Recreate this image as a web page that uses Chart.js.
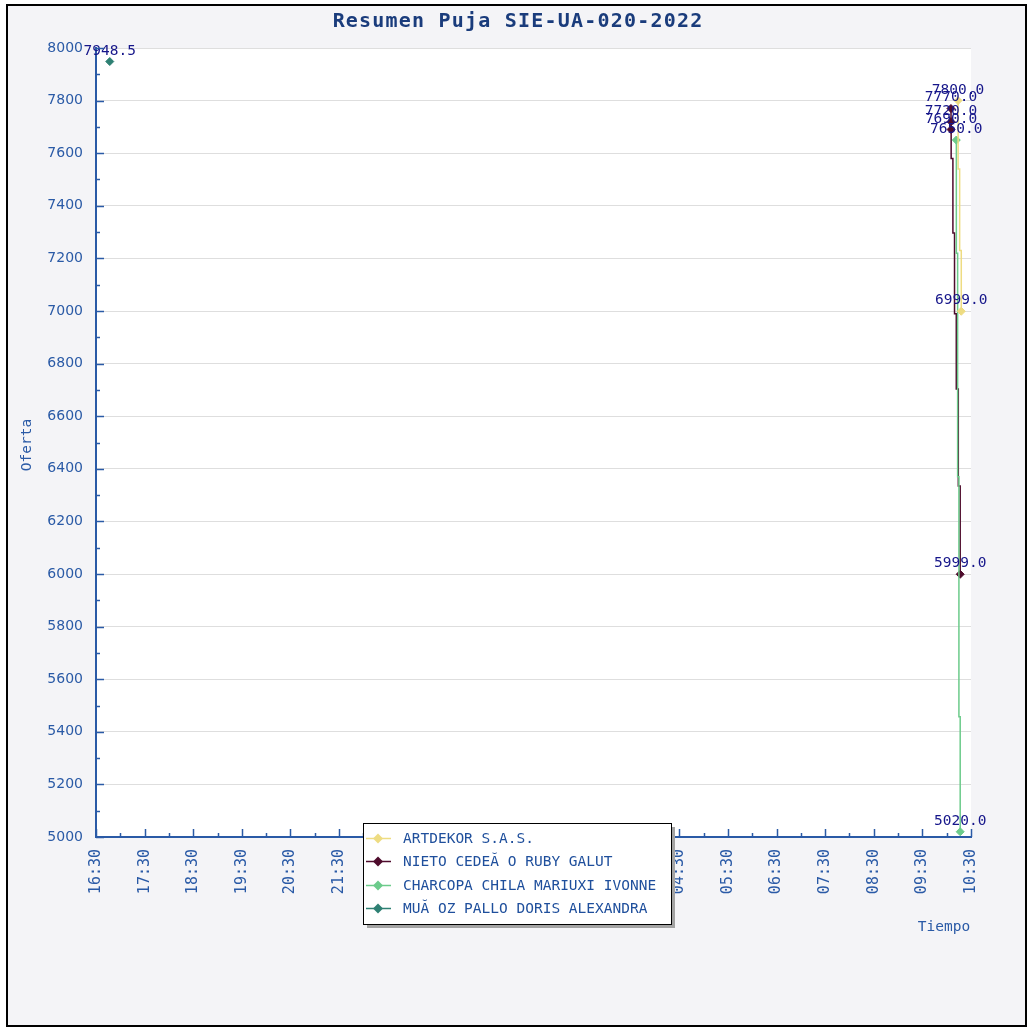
<!DOCTYPE html>
<html><head><meta charset="utf-8">
<script src="https://cdn.jsdelivr.net/npm/chart.js@4"></script>
<style>html,body{margin:0;padding:0;background:#fff;overflow:hidden}</style>
</head><body>
<canvas id="c" width="1031" height="1027"></canvas>
<script>
const chartTitle = 'Resumen Puja SIE-UA-020-2022';
const yAxisTitle = 'Oferta';
const xAxisTitle = 'Tiempo';
const seriesNames = ['ARTDEKOR S.A.S.', 'NIETO CEDEĂ O RUBY GALUT', 'CHARCOPA CHILA MARIUXI IVONNE', 'MUĂ OZ PALLO DORIS ALEXANDRA'];
const seriesColors = ['#eedc82', '#4e0b2c', '#6ccb8b', '#2e8073'];

const artdekorTimes = ['10:14:00', '10:14:05', '10:16:00', '10:18:00'];
const artdekorBids  = [7800, 7540, 7230, 6999];
const nietoTimes = ['10:05:15', '10:05:20', '10:05:25', '10:05:30', '10:07:40', '10:09:40', '10:11:50', '10:14:20', '10:16:40'];
const nietoBids  = [7770, 7720, 7690, 7580, 7297, 6990, 6703, 6335, 5999];
const charcopaTimes = ['10:11:50', '10:11:55', '10:13:30', '10:15:05', '10:16:40'];
const charcopaBids  = [7650, 7220, 6370, 5457, 5020];
const munozTimes = ['16:47:00'];
const munozBids  = [7948.5];

const artdekorLabeled = [0, 3];
const nietoLabeled = [0, 1, 2, 8];
const charcopaLabeled = [0, 4];
const munozLabeled = [0];

const xTickLabels = ['16:30','17:30','18:30','19:30','20:30','21:30','22:30','23:30','00:30','01:30','02:30','03:30','04:30','05:30','06:30','07:30','08:30','09:30','10:30'];
const yMin = 5000, yMax = 8000, yStep = 200;

const START_MIN = 16*60 + 30;
function toMinutes(t){
  const p = t.split(':').map(Number);
  let m = p[0]*60 + p[1] + (p[2]||0)/60 - START_MIN;
  if (m < 0) m += 1440;
  return m;
}
function pts(times, vals){ return times.map((t,i)=>({x: toMinutes(t), y: vals[i]})); }

const allTimes = [artdekorTimes, nietoTimes, charcopaTimes, munozTimes];
const allBids = [artdekorBids, nietoBids, charcopaBids, munozBids];
const allLabeled = [artdekorLabeled, nietoLabeled, charcopaLabeled, munozLabeled];
const drawOrder = [1, 3, 2, 0];

const MONO = '"DejaVu Sans Mono", "Liberation Mono", monospace';
const AXIS_BLUE = '#2a5aa6';

const datasets = seriesNames.map((name, s) => ({
  label: name,
  data: pts(allTimes[s], allBids[s]),
  borderColor: seriesColors[s],
  backgroundColor: seriesColors[s],
  borderWidth: 1.5,
  stepped: true,
  order: drawOrder[s],
  pointStyle: 'rectRot',
  pointRadius: ctx => allLabeled[s].includes(ctx.dataIndex) ? 4 : 0,
  pointHoverRadius: 0,
  pointBorderWidth: 1,
  fill: false,
  showLine: allTimes[s].length > 1
}));

const decoPlugin = {
  id: 'deco',
  beforeDraw(chart){
    const {ctx, chartArea: a} = chart;
    ctx.save();
    ctx.fillStyle = '#ffffff'; ctx.fillRect(0,0,chart.width,chart.height);
    ctx.fillStyle = '#f4f4f7'; ctx.fillRect(7,5,1019,1021);
    ctx.strokeStyle = '#000'; ctx.lineWidth = 2; ctx.strokeRect(7,5,1019,1021);
    ctx.fillStyle = '#ffffff'; ctx.fillRect(a.left, a.top, a.right-a.left, a.bottom-a.top);
    ctx.restore();
  },
  afterDatasetsDraw(chart){
    const {ctx} = chart;
    ctx.save();
    ctx.font = '14.5px ' + MONO;
    ctx.fillStyle = '#16168a';
    ctx.textAlign = 'center';
    ctx.textBaseline = 'alphabetic';
    chart.data.datasets.forEach((ds, s) => {
      const meta = chart.getDatasetMeta(s);
      allLabeled[s].forEach(i => {
        const el = meta.data[i];
        if (!el) return;
        ctx.fillText(ds.data[i].y.toFixed(1), el.x, el.y - 7);
      });
    });
    ctx.restore();
  },
  afterDraw(chart){
    const {ctx, chartArea: a, scales} = chart;
    const xs = scales.x, ys = scales.y;
    ctx.save();
    ctx.strokeStyle = AXIS_BLUE; ctx.lineWidth = 1.5;
    for (let v = yMin; v <= yMax; v += yStep/2){
      const y = Math.round(ys.getPixelForValue(v)) + 0.5;
      const len = (v - yMin) % yStep === 0 ? 8 : 4;
      ctx.beginPath(); ctx.moveTo(a.left, y); ctx.lineTo(a.left + len, y); ctx.stroke();
    }
    for (let m = 0; m <= (xTickLabels.length-1)*60; m += 30){
      const x = Math.round(xs.getPixelForValue(m)) + 0.5;
      const len = m % 60 === 0 ? 8 : 4;
      ctx.beginPath(); ctx.moveTo(x, a.bottom); ctx.lineTo(x, a.bottom - len); ctx.stroke();
    }
    ctx.fillStyle = '#1a3c7c';
    ctx.font = 'bold 20px ' + MONO;
    ctx.textAlign = 'center'; ctx.textBaseline = 'middle';
    try { ctx.letterSpacing = '1.2px'; } catch(e){}
    ctx.fillText(chartTitle, 518, 22);
    try { ctx.letterSpacing = '0px'; } catch(e){}
    ctx.fillStyle = AXIS_BLUE;
    ctx.font = '14.5px ' + MONO;
    ctx.fillText(xAxisTitle, 944, 927);
    ctx.save();
    ctx.translate(27, 445); ctx.rotate(-Math.PI/2);
    ctx.fillText(yAxisTitle, 0, 0);
    ctx.restore();
    const lx = 363, ly = 823, lw = 308, lh = 101;
    ctx.fillStyle = '#a3a3a3'; ctx.fillRect(lx+4, ly+4, lw, lh);
    ctx.fillStyle = '#ffffff'; ctx.fillRect(lx, ly, lw, lh);
    ctx.strokeStyle = '#000'; ctx.lineWidth = 1; ctx.strokeRect(lx+0.5, ly+0.5, lw, lh);
    ctx.font = '14.5px ' + MONO;
    ctx.textAlign = 'left'; ctx.textBaseline = 'middle';
    seriesNames.forEach((name, i) => {
      const y = Math.round(ly + 15 + i*23.3) + 0.5;
      ctx.strokeStyle = seriesColors[i]; ctx.lineWidth = 1.5;
      ctx.beginPath(); ctx.moveTo(lx+3, y); ctx.lineTo(lx+28, y); ctx.stroke();
      ctx.fillStyle = seriesColors[i];
      ctx.beginPath();
      ctx.moveTo(lx+15, y-5); ctx.lineTo(lx+20, y); ctx.lineTo(lx+15, y+5); ctx.lineTo(lx+10, y);
      ctx.closePath(); ctx.fill();
      ctx.fillStyle = '#1f4f9c';
      ctx.fillText(name, lx+40, y+1);
    });
    ctx.restore();
  }
};

new Chart(document.getElementById('c'), {
  type: 'line',
  data: { datasets },
  plugins: [decoPlugin],
  options: {
    responsive: false,
    animation: false,
    devicePixelRatio: 1,
    layout: { padding: { left: 0, right: 60, top: 48, bottom: 0 } },
    plugins: { legend: { display: false }, title: { display: false }, tooltip: { enabled: false } },
    scales: {
      x: {
        type: 'linear',
        min: 0, max: (xTickLabels.length-1)*60,
        afterFit: s => { s.height = 1027 - 837; },
        border: { color: AXIS_BLUE, width: 2 },
        grid: { display: false, drawTicks: false },
        ticks: {
          stepSize: 30, autoSkip: false, minRotation: 90, maxRotation: 90,
          padding: 12,
          color: AXIS_BLUE,
          font: { family: MONO, size: 15 },
          callback: v => (v % 60 === 0) ? xTickLabels[v/60] : ''
        }
      },
      y: {
        type: 'linear',
        min: yMin, max: yMax,
        afterFit: s => { s.width = 96; },
        border: { color: AXIS_BLUE, width: 2 },
        grid: { color: '#dedede', lineWidth: 1, drawTicks: false },
        ticks: {
          stepSize: yStep, padding: 13,
          color: AXIS_BLUE,
          font: { family: '"DejaVu Sans", sans-serif', size: 14 },
          callback: v => String(v)
        }
      }
    }
  }
});
</script>
</body></html>
